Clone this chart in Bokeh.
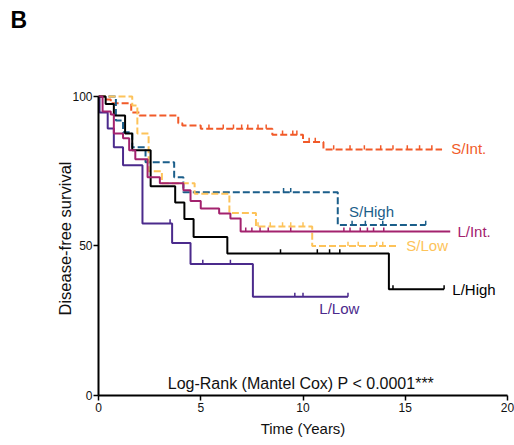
import numpy as np
from bokeh.plotting import figure
from bokeh.models import Range1d, Label, FixedTicker, Title
from bokeh.embed import file_html
from bokeh.resources import INLINE

# ---- data ----
groups = ["S/Int.", "S/High", "L/Int.", "S/Low", "L/High", "L/Low"]

sint_t = [0, 0.3, 0.6, 1.6, 2.0, 3.9, 4.1, 5.0, 8.5, 10.0, 11.0]
sint_s = [100, 99, 97.7, 94.6, 93.6, 91, 90.3, 89.2, 87.2, 84.8, 82.3]
sint_end = 16.8
sint_cens = [5.4, 6.1, 6.6, 7.0, 7.3, 7.8, 8.2, 9.0, 9.5, 9.7, 10.3, 10.6,
             11.5, 12.3, 13.0, 13.8, 14.4, 15.1, 15.7, 16.3]

shigh_t = [0, 0.85, 1.2, 1.65, 2.3, 3.7, 4.15, 11.7]
shigh_s = [100, 92, 88, 83, 78, 73, 68, 57]
shigh_end = 16.0
shigh_cens = [9.05, 9.4, 12.4, 13.05, 13.9, 16.0]

lint_t = [0, 0.2, 0.6, 0.75, 1.2, 1.5, 1.8, 2.4, 3.0, 4.15, 4.5, 5.0, 5.9, 6.45, 6.95]
lint_s = [100, 95, 94, 87.6, 86, 82, 79, 73, 71, 68.6, 65, 62.5, 60.9, 59.2, 54.8]
lint_end = 17.2
lint_cens = [7.2, 7.5, 7.9, 8.3, 9.4, 12.0, 12.3, 12.8, 13.15, 13.45, 13.95]

slow_t = [0, 1.65, 1.9, 2.45, 3.1, 4.7, 6.4, 7.7, 10.45]
slow_s = [100, 97, 87.6, 75, 71, 67.5, 61, 56.5, 50]
slow_end = 14.6
slow_cens = [7.8, 8.4, 9.0, 9.4, 10.0, 12.2, 12.7, 13.6, 13.9]

lhigh_t = [0, 0.35, 0.75, 1.3, 1.65, 2.55, 3.75, 4.2, 4.65, 6.3, 14.2]
lhigh_s = [100, 97.5, 93.6, 87.6, 82, 70, 64.5, 59, 53, 47.5, 35.5]
lhigh_end = 16.9
lhigh_cens = [8.9, 10.7, 11.3, 11.8, 14.4, 16.9]

llow_t = [0, 0.05, 0.45, 0.75, 1.2, 2.15, 3.6, 4.5, 7.55]
llow_s = [100, 94.6, 89.3, 83, 77, 57.5, 51, 44, 33]
llow_end = 12.2
llow_cens = [3.5, 5.1, 6.45, 9.6, 10.0, 12.2]

x_ticks = [0, 5, 10, 15, 20]
y_ticks = [0, 50, 100]
pvalue_text = "Log-Rank (Mantel Cox) P < 0.0001***"

FONT = "Liberation Sans"

series = [
    (sint_t, sint_s, sint_end, sint_cens, "#F15A29", "7 3", "S/Int.", 17.25, 82.6),
    (shigh_t, shigh_s, shigh_end, shigh_cens, "#1B5E8A", "7 3", "S/High", 12.25, 61.4),
    (lint_t, lint_s, lint_end, lint_cens, "#A3226E", "solid", "L/Int.", 17.55, 55.0),
    (slow_t, slow_s, slow_end, slow_cens, "#FDC35A", "7 3", "S/Low", 15.05, 50.3),
    (lhigh_t, lhigh_s, lhigh_end, lhigh_cens, "#000000", "solid", "L/High", 17.3, 35.6),
    (llow_t, llow_s, llow_end, llow_cens, "#4B2A8C", "solid", "L/Low", 10.8, 29.0),
]

p = figure(width=514, height=440, output_backend="svg", toolbar_location=None,
           x_range=Range1d(0, 20), y_range=Range1d(0, 105),
           min_border_left=98, min_border_right=7, min_border_top=81, min_border_bottom=45)
p.outline_line_color = None
p.grid.visible = False
p.background_fill_color = "white"

# panel letter as the main title, with a blank spacer title between it and the frame
p.title.text = "B"
p.title.text_font = FONT
p.title.text_font_size = "23px"
p.title.text_font_style = "bold"
p.title.text_color = "#000000"
p.title.offset = -88
p.title.standoff = 0
p.add_layout(Title(text=" ", text_font_size="42px", standoff=0), "above")

order = [0, 1, 3, 5, 4, 2]
for i in order:
    t, s, end, cens, col, dash, name, lx, ly = series[i]
    xs = list(t) + [end]
    ys = list(s) + [s[-1]]
    p.step(xs, ys, mode="after", line_color=col, line_width=2, line_dash=dash)
    ct = np.array(cens)
    idx = np.searchsorted(np.array(t), ct, side="right") - 1
    cy = np.array(s)[idx]
    p.segment(x0=ct, x1=ct, y0=cy, y1=cy + 1.4, line_color=col, line_width=1.5)

for t, s, end, cens, col, dash, name, lx, ly in series:
    p.add_layout(Label(x=lx, y=ly, text=name, text_color=col, text_font=FONT,
                       text_font_size="15px", text_baseline="middle", text_align="left"))

p.add_layout(Label(x=9.9, y=4.0, text=pvalue_text, text_font=FONT, text_font_size="16px",
                   text_color="#111111", text_baseline="middle", text_align="center"))

for ax in (p.xaxis, p.yaxis):
    ax.axis_line_width = 2
    ax.axis_line_color = "#000000"
    ax.major_tick_line_width = 1.5
    ax.major_tick_line_color = "#000000"
    ax.major_tick_in = 0
    ax.major_tick_out = 5
    ax.minor_tick_line_color = None
    ax.major_label_text_font = FONT
    ax.major_label_text_font_size = "12px"
    ax.major_label_text_color = "#111111"
    ax.axis_label_text_font = FONT
    ax.axis_label_text_font_style = "normal"
    ax.axis_label_text_color = "#111111"

p.xaxis.ticker = FixedTicker(ticks=x_ticks)
p.yaxis.ticker = FixedTicker(ticks=y_ticks)
p.xaxis.bounds = (0, 20)
p.yaxis.bounds = (0, 100)
p.xaxis.major_label_standoff = 2
p.yaxis.major_label_standoff = 1
p.xaxis.axis_label = "Time (Years)"
p.xaxis.axis_label_text_font_size = "15px"
p.xaxis.axis_label_standoff = 5
p.yaxis.axis_label = "Disease-free survival"
p.yaxis.axis_label_text_font_size = "16.5px"
p.yaxis.axis_label_standoff = -5

open("out.html", "w").write(file_html(p, INLINE))
